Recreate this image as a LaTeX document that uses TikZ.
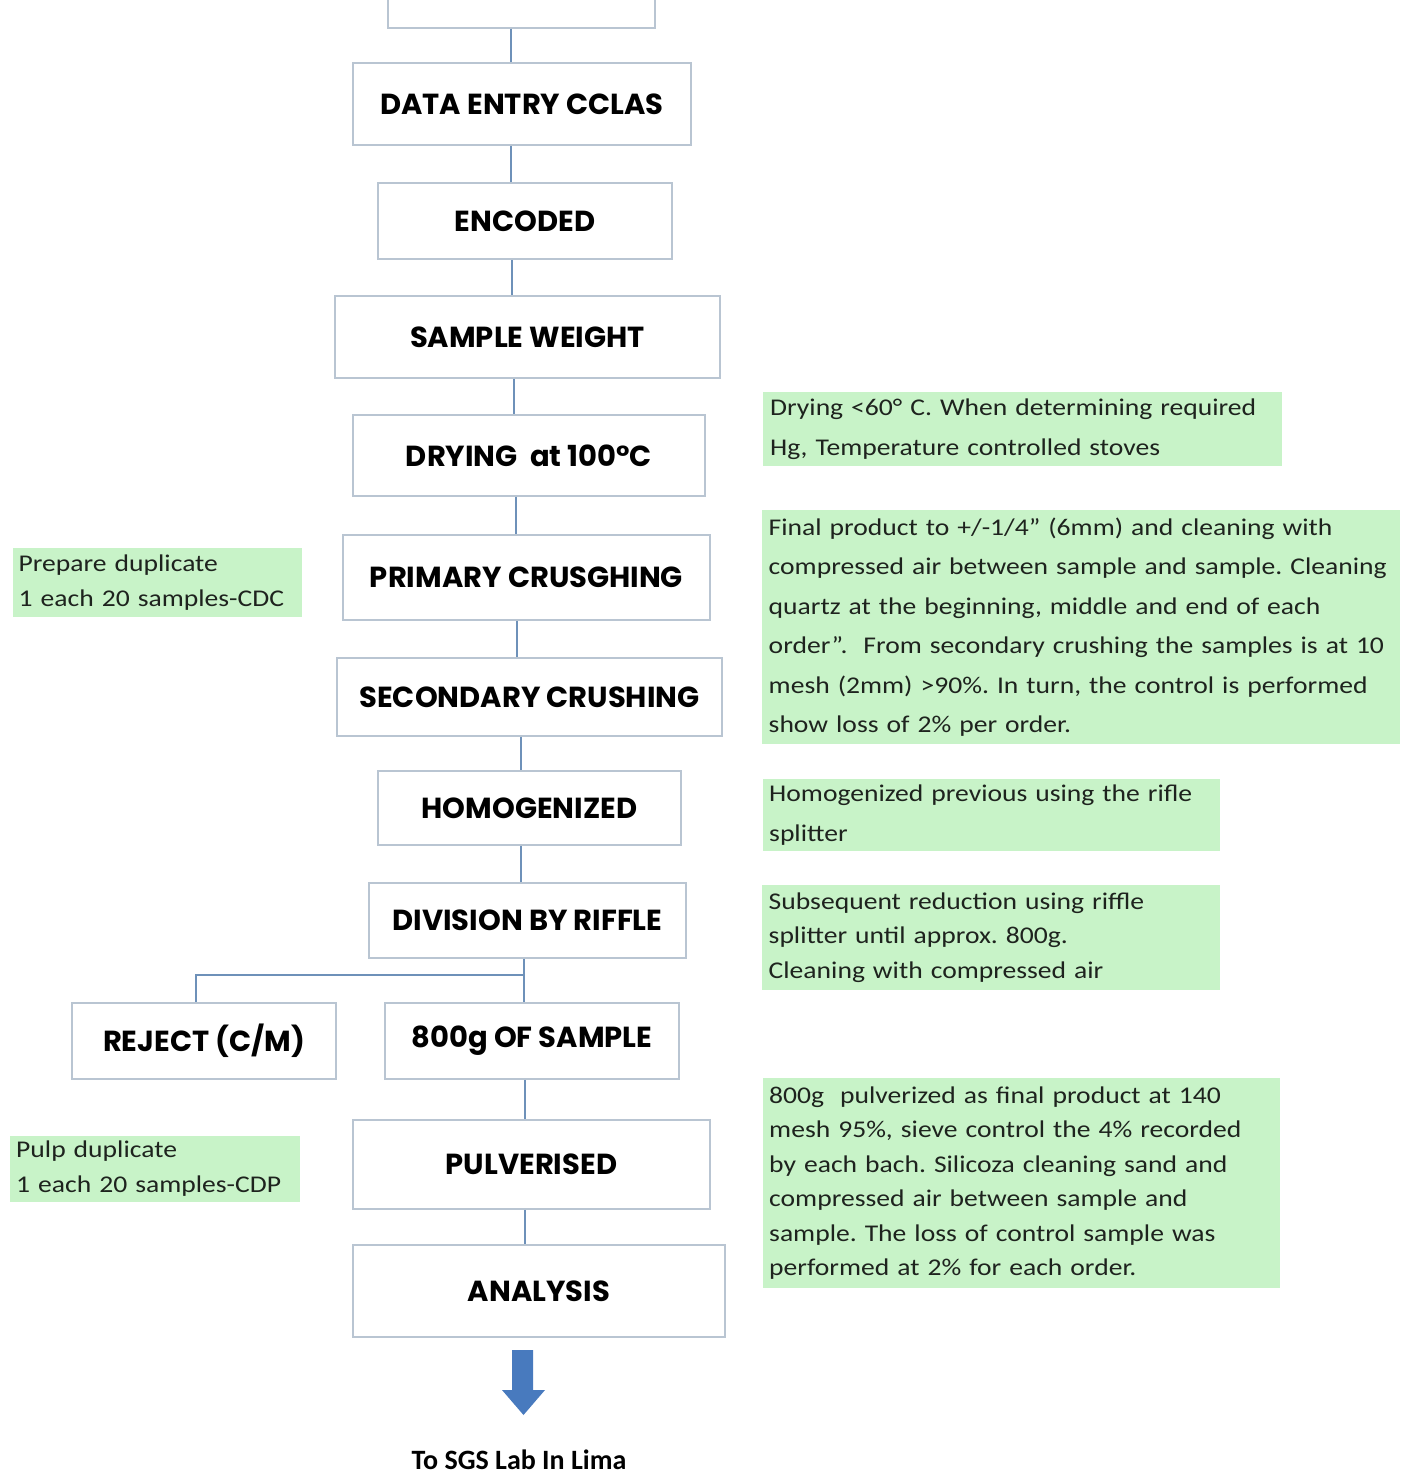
\documentclass[tikz,border=0pt]{standalone}
\usepackage{fontspec}
\usepackage{xcolor}
\usepackage{tikz}

\setmainfont{Carlito}
\newfontfamily\stagefont{Poppins}
\newfontfamily\notefont[FakeStretch=1.15]{Carlito}
\frenchspacing

\definecolor{boxline}{RGB}{185,197,210}
\definecolor{linkblue}{RGB}{110,145,185}
\definecolor{notegreen}{RGB}{200,243,200}
\definecolor{notetext}{RGB}{30,35,30}
\definecolor{arrowblue}{RGB}{72,122,190}

\tikzset{
  stage/.style={draw=boxline, fill=white, line width=1.5pt, inner sep=0pt,
    font=\stagefont\bfseries\fontsize{29}{34}\selectfont},
  note/.style={fill=notegreen, anchor=north west, align=left, inner sep=5pt,
    text=notetext, font=\notefont\fontsize{24}{#1}\selectfont},
  note/.default=34.5,
  link/.style={draw=linkblue, line width=2pt},
}

\begin{document}
\begin{tikzpicture}[x=1pt, y=-1pt]
\useasboundingbox (0,0) rectangle (1401,1477);

% process steps
\node[stage, minimum width=267pt, minimum height=80pt] (top) at (521.5,-12) {};
\node[stage, minimum width=338pt, minimum height=82pt] (data) at (522,104) {DATA ENTRY CCLAS};
\node[stage, minimum width=294pt, minimum height=76pt] (encoded) at (525,221) {ENCODED};
\node[stage, minimum width=385pt, minimum height=82pt] (weight) at (527.5,337) {SAMPLE WEIGHT};
\node[stage, minimum width=352pt, minimum height=81pt] (drying) at (529,455.5) {DRYING\ \ at 100°C};
\node[stage, minimum width=367pt, minimum height=85pt] (primary) at (526.5,577.5) {PRIMARY CRUSGHING};
\node[stage, minimum width=385pt, minimum height=78pt] (secondary) at (529.5,697) {SECONDARY CRUSHING};
\node[stage, minimum width=303pt, minimum height=74pt] (homog) at (529.5,808) {HOMOGENIZED};
\node[stage, minimum width=317pt, minimum height=75pt] (division) at (527.5,920.5) {DIVISION BY RIFFLE};
\node[stage, minimum width=264pt, minimum height=76pt] (reject) at (204,1041) {REJECT (C/M)};
\node[stage, minimum width=294pt, minimum height=76pt] (sample) at (532,1041) {800g OF SAMPLE};
\node[stage, minimum width=357pt, minimum height=89pt] (pulv) at (531.5,1164.5) {PULVERISED};
\node[stage, minimum width=372pt, minimum height=92pt] (analysis) at (539,1291) {ANALYSIS};

% links
\foreach \a/\b/\x in {top/data/511, data/encoded/511, encoded/weight/512,
    weight/drying/514, drying/primary/516, primary/secondary/517,
    secondary/homog/521, homog/division/521, sample/pulv/525, pulv/analysis/525}
{
  \path (\x,0) coordinate (lx);
  \draw[link] (\a.south -| lx) -- (\b.north -| lx);
}

% split after riffle
\coordinate (split) at (524,975);
\draw[link] (division.south -| split) -- (sample.north -| split);
\draw[link] (split) -| ([xshift=-8pt]reject.north);

% notes
\node[note=39.4, minimum width=519pt, minimum height=74pt, text width=505pt] (dryNote) at (763,392)
  {Drying <60° C. When determining required\\Hg, Temperature controlled stoves};
\node[note=39.4, minimum width=638pt, minimum height=234pt, text width=625pt] (crushNote) at (762,510)
  {Final product to +/-1/4” (6mm) and cleaning with\\
   compressed air between sample and sample. Cleaning\\
   quartz at the beginning, middle and end of each\\
   order”.\ \ From secondary crushing the samples is at 10\\
   mesh (2mm) >90\%. In turn, the control is performed\\
   show loss of 2\% per order.};
\node[note=39.4, minimum width=457pt, minimum height=72pt, text width=445pt] (homNote) at (763,779)
  {Homogenized previous using the rifle\\splitter};
\node[note, minimum width=458pt, minimum height=105pt, text width=445pt] (divNote) at (762,885)
  {Subsequent reduction using riffle\\splitter until approx. 800g.\\Cleaning with compressed air};
\node[note, minimum width=517pt, minimum height=210pt, text width=505pt] (pulvNote) at (763,1078)
  {800g\ \ pulverized as final product at 140\\
   mesh 95\%, sieve control the 4\% recorded\\
   by each bach. Silicoza cleaning sand and\\
   compressed air between sample and\\
   sample. The loss of control sample was\\
   performed at 2\% for each order.};
\node[note=35, minimum width=289pt, minimum height=69pt, text width=278pt] (dupNote) at (13,548)
  {Prepare duplicate\\1 each 20 samples-CDC};
\node[note=35, minimum width=290pt, minimum height=64pt, text width=278pt] (pulpNote) at (10,1136)
  {Pulp duplicate\\1 each 20 samples-CDP};

% out to lab
\fill[arrowblue] (512,1350) -- (533,1350) -- (533,1390) -- (545,1390) -- (523.5,1415)
  -- (502,1390) -- (512,1390) -- cycle;
\node[font=\bfseries\fontsize{28}{32}\selectfont, text=black] (lab) at (519,1460) {To SGS Lab In Lima};
\end{tikzpicture}
\end{document}
